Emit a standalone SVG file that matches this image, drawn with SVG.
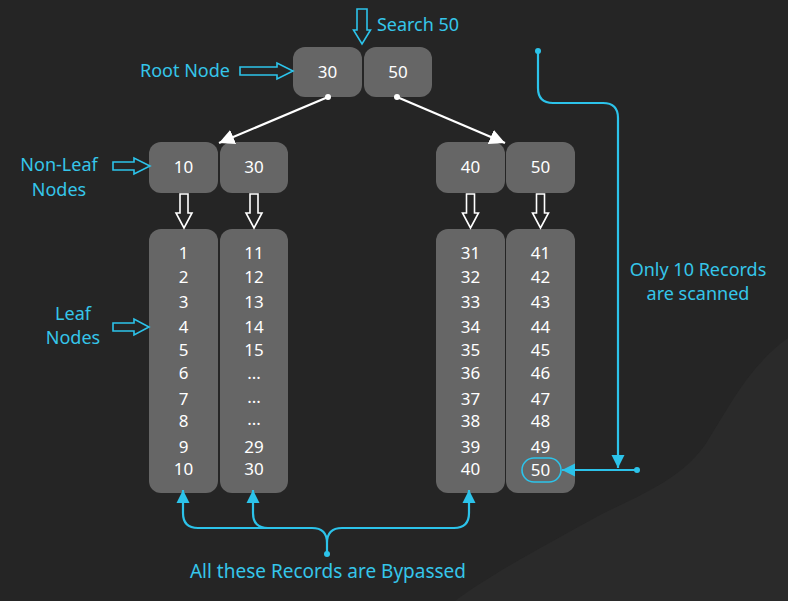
<svg xmlns="http://www.w3.org/2000/svg" width="788" height="601" viewBox="0 0 788 601">
<defs>
<style>
.box{fill:#666666;}
.num{font-family:"Noto Sans","DejaVu Sans",sans-serif;font-size:17px;fill:#ffffff;text-anchor:middle;}
.lbl{font-family:"Noto Sans","DejaVu Sans",sans-serif;font-size:18px;fill:#35c6ea;text-anchor:middle;}
.cy{fill:none;stroke:#2cc3ea;stroke-width:2.2;}
.blk{fill:none;stroke:#2cc3ea;stroke-width:1.6;}
.wblk{fill:none;stroke:#ffffff;stroke-width:1.6;}
.wl{fill:none;stroke:#ffffff;stroke-width:2.2;}
</style>
<marker id="wa" viewBox="0 0 10 10" refX="10" refY="5" markerWidth="7" markerHeight="7" markerUnits="strokeWidth" orient="auto">
<path d="M0,0 L10,5 L0,10 z" fill="#ffffff"/>
</marker>
<marker id="ca" viewBox="0 0 10 10" refX="10" refY="5" markerWidth="6" markerHeight="6" markerUnits="strokeWidth" orient="auto">
<path d="M0,0 L10,5 L0,10 z" fill="#2cc3ea"/>
</marker>
</defs>
<rect x="0" y="0" width="788" height="601" fill="#252525"/>
<path d="M455,601 C490,575 540,548 600,515 C640,495 680,480 705,445 C730,405 750,365 788,338 L788,601 Z" fill="#2a2a2a"/>

<g id="root-node">
<rect class="box" x="293" y="47" width="69" height="50" rx="12"/>
<rect class="box" x="364" y="47" width="68" height="50" rx="12"/>
<text class="num" x="327.5" y="78">30</text>
<text class="num" x="398" y="78">50</text>
</g>

<g id="nonleaf-left">
<rect class="box" x="149" y="142" width="69" height="51" rx="12"/>
<rect class="box" x="220" y="142" width="68" height="51" rx="12"/>
<text class="num" x="183.5" y="173">10</text>
<text class="num" x="254" y="173">30</text>
</g>

<g id="nonleaf-right">
<rect class="box" x="436" y="142" width="69" height="51" rx="12"/>
<rect class="box" x="506" y="142" width="69" height="51" rx="12"/>
<text class="num" x="470.5" y="173">40</text>
<text class="num" x="540.5" y="173">50</text>
</g>

<g id="leaf-1">
<rect class="box" x="149" y="229" width="69" height="264" rx="12"/>
<text class="num" x="183.5" y="259">1</text>
<text class="num" x="183.5" y="283">2</text>
<text class="num" x="183.5" y="308">3</text>
<text class="num" x="183.5" y="333">4</text>
<text class="num" x="183.5" y="356">5</text>
<text class="num" x="183.5" y="379">6</text>
<text class="num" x="183.5" y="405">7</text>
<text class="num" x="183.5" y="427">8</text>
<text class="num" x="183.5" y="453">9</text>
<text class="num" x="183.5" y="475">10</text>
</g>

<g id="leaf-2">
<rect class="box" x="220" y="229" width="68" height="264" rx="12"/>
<text class="num" x="254" y="259">11</text>
<text class="num" x="254" y="283">12</text>
<text class="num" x="254" y="308">13</text>
<text class="num" x="254" y="333">14</text>
<text class="num" x="254" y="356">15</text>
<text class="num" x="254" y="379">...</text>
<text class="num" x="254" y="403">...</text>
<text class="num" x="254" y="425">...</text>
<text class="num" x="254" y="453">29</text>
<text class="num" x="254" y="475">30</text>
</g>

<g id="leaf-3">
<rect class="box" x="436" y="229" width="69" height="264" rx="12"/>
<text class="num" x="470.5" y="259">31</text>
<text class="num" x="470.5" y="283">32</text>
<text class="num" x="470.5" y="308">33</text>
<text class="num" x="470.5" y="333">34</text>
<text class="num" x="470.5" y="356">35</text>
<text class="num" x="470.5" y="379">36</text>
<text class="num" x="470.5" y="405">37</text>
<text class="num" x="470.5" y="427">38</text>
<text class="num" x="470.5" y="453">39</text>
<text class="num" x="470.5" y="475">40</text>
</g>

<g id="leaf-4">
<rect class="box" x="506" y="229" width="69" height="264" rx="12"/>
<text class="num" x="540.5" y="259">41</text>
<text class="num" x="540.5" y="283">42</text>
<text class="num" x="540.5" y="308">43</text>
<text class="num" x="540.5" y="333">44</text>
<text class="num" x="540.5" y="356">45</text>
<text class="num" x="540.5" y="379">46</text>
<text class="num" x="540.5" y="405">47</text>
<text class="num" x="540.5" y="427">48</text>
<text class="num" x="540.5" y="453">49</text>
<text class="num" x="540.5" y="476">50</text>
<rect x="522" y="458" width="39" height="24" rx="12" fill="none" stroke="#2cc3ea" stroke-width="1.6"/>
</g>

<g id="labels">
<text class="lbl" x="418" y="31">Search 50</text>
<text class="lbl" x="185" y="77">Root Node</text>
<text class="lbl" x="59" y="171">Non-Leaf</text>
<text class="lbl" x="59" y="196">Nodes</text>
<text class="lbl" x="73" y="320">Leaf</text>
<text class="lbl" x="73" y="344">Nodes</text>
<text class="lbl" x="698" y="276">Only 10 Records</text>
<text class="lbl" x="698" y="300">are scanned</text>
<text class="lbl" x="328" y="578" style="font-size:19px">All these Records are Bypassed</text>
</g>

<g id="connectors">
<path class="blk" d="M357,9 H367 V30 H370.5 L362,44 L353.5,30 H357 Z"/>
<path class="blk" d="M240,67 H277 V63 L293,71 L277,79 V75 H240 Z"/>
<path class="blk" d="M113,162 H134 V158 L150,166 L134,174 V170 H113 Z"/>
<path class="blk" d="M113,323 H134 V319 L149,327 L134,335 V331 H113 Z"/>
<path class="wblk" d="M180,194 H188 V213 H192 L184,228 L176,213 H180 Z"/>
<path class="wblk" d="M250,194 H258 V213 H262 L254,228 L246,213 H250 Z"/>
<path class="wblk" d="M466.5,194 H474.5 V213 H478.5 L470.5,228 L462.5,213 H466.5 Z"/>
<path class="wblk" d="M536.5,194 H544.5 V213 H548.5 L540.5,228 L532.5,213 H536.5 Z"/>
<circle cx="328" cy="97" r="3" fill="#ffffff"/>
<circle cx="397" cy="97" r="3" fill="#ffffff"/>
<line class="wl" x1="328" y1="97" x2="219" y2="143" marker-end="url(#wa)"/>
<line class="wl" x1="397" y1="97" x2="505" y2="143" marker-end="url(#wa)"/>
<circle cx="538" cy="51" r="3" fill="#2cc3ea"/>
<path class="cy" d="M538,51 V88 Q538,103 553,103 H603 Q618,103 618,118 V468" marker-end="url(#ca)"/>
<circle cx="637" cy="470" r="3" fill="#2cc3ea"/>
<path class="cy" d="M637,470 H562" marker-end="url(#ca)"/>
<path class="cy" d="M312,528 H198 Q183,528 183,513 V490" marker-end="url(#ca)"/>
<path class="cy" d="M268,528 Q253,528 253,513 V490" marker-end="url(#ca)"/>
<path class="cy" d="M342,528 H454 Q469,528 469,513 V490" marker-end="url(#ca)"/>
<path class="cy" d="M312,528 Q327,528 327,543 V554 M342,528 Q327,528 327,543"/>
<circle cx="327" cy="554" r="3" fill="#2cc3ea"/>
</g>
</svg>
